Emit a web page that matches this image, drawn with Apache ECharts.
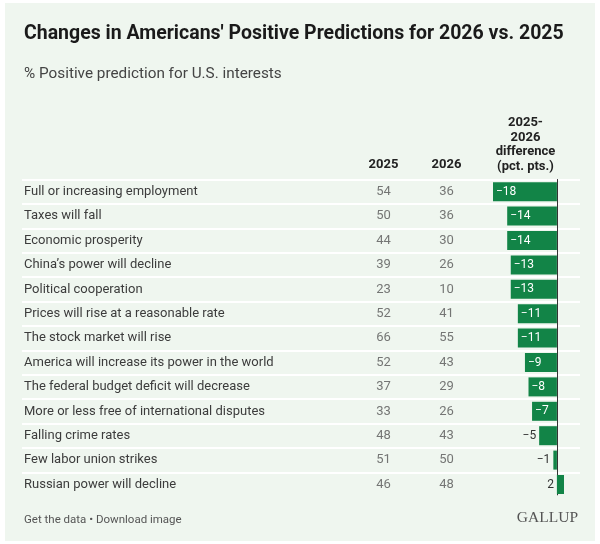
<!DOCTYPE html>
<html>
<head>
<meta charset="utf-8">
<script src="https://cdn.jsdelivr.net/npm/echarts@6/dist/echarts.min.js"></script>
<style>
html,body{margin:0;padding:0;background:#fff;}
#c{width:600px;height:544px;}
</style>
</head>
<body>
<div id="c"></div>
<script>
const categories = [
  'Full or increasing employment',
  'Taxes will fall',
  'Economic prosperity',
  "China\u2019s power will decline",
  'Political cooperation',
  'Prices will rise at a reasonable rate',
  'The stock market will rise',
  'America will increase its power in the world',
  'The federal budget deficit will decrease',
  'More or less free of international disputes',
  'Falling crime rates',
  'Few labor union strikes',
  'Russian power will decline'
];
const values2025 = [54, 50, 44, 39, 23, 52, 66, 52, 37, 33, 48, 51, 46];
const values2026 = [36, 36, 30, 26, 10, 41, 55, 43, 29, 26, 43, 50, 48];
const diff = [-18, -14, -14, -13, -13, -11, -11, -9, -8, -7, -5, -1, 2];
const yearCols = ['2025', '2026'];

const BG = '#eff6ef';
const GREEN = '#128447';
const FONT = 'Roboto, "Liberation Sans", sans-serif';

const gridTop = 179.5, rowH = 24.4, nRows = categories.length;
const gridH = rowH * nRows;

const scatterData = [];
categories.forEach((c, i) => {
  scatterData.push([yearCols[0], c, values2025[i]]);
  scatterData.push([yearCols[1], c, values2026[i]]);
});

const barData = diff.map(v => {
  const small = Math.abs(v) <= 5;
  return {
    value: v,
    label: small
      ? { position: 'left', color: '#333', distance: 3 }
      : { position: 'insideLeft', color: '#fff', distance: 3 }
  };
});

const chart = echarts.init(document.getElementById('c'), null, { renderer: 'canvas' });
chart.setOption({
  backgroundColor: '#fff',
  animation: false,
  textStyle: { fontFamily: FONT },
  graphic: [
    { type: 'rect', z: -10, shape: { x: 5, y: 3, width: 590, height: 538 }, style: { fill: BG } },
    { type: 'rect', z: 100, shape: { x: 18, y: gridTop + gridH - 1.5, width: 566, height: 4 }, style: { fill: BG } },
    { type: 'text', left: 24, top: 24, style: { text: "Changes in Americans' Positive Predictions for 2026 vs. 2025", font: 'bold 19.5px ' + FONT, fill: '#1a1a1a' } },
    { type: 'text', left: 24, top: 67, style: { text: '% Positive prediction for U.S. interests', font: '15.3px ' + FONT, fill: '#444' } },
    { type: 'text', left: 24, top: 514, style: { text: 'Get the data \u2022 Download image', font: '11.5px ' + FONT, fill: '#555' } },
    { type: 'text', right: 22, top: 510, style: { text: 'GALLUP', font: '15.5px "Liberation Serif", "DejaVu Serif", serif', fill: '#555' } }
  ],
  grid: [
    { left: 22, right: 20, top: gridTop, height: gridH },
    { left: 352, width: 126, top: gridTop, height: gridH },
    { left: 493, width: 71, top: gridTop, height: gridH }
  ],
  xAxis: [
    { gridIndex: 0, type: 'value', show: false },
    {
      gridIndex: 1, type: 'category', data: yearCols, position: 'top',
      axisLine: { show: false }, axisTick: { show: false }, splitLine: { show: false },
      axisLabel: { fontWeight: 'bold', fontSize: 13, color: '#222', margin: 8, fontFamily: FONT }
    },
    {
      gridIndex: 2, type: 'value', position: 'top',
      min: v => v.min, max: v => v.max,
      axisLine: { show: false }, axisTick: { show: false }, axisLabel: { show: false }, splitLine: { show: false },
      name: '2025-\n2026\ndifference\n(pct. pts.)', nameLocation: 'middle', nameGap: 6,
      nameTextStyle: { fontWeight: 'bold', fontSize: 13, color: '#222', lineHeight: 14.5, align: 'center', verticalAlign: 'bottom', fontFamily: FONT, padding: [0, 6, 0, 0] }
    }
  ],
  yAxis: [
    {
      gridIndex: 0, type: 'category', data: categories, inverse: true,
      axisLine: { show: false }, axisTick: { show: false },
      splitLine: { show: true, lineStyle: { color: '#ffffff', width: 2 } },
      axisLabel: { align: 'left', margin: -2, fontSize: 13, color: '#3c3c3c', fontFamily: FONT }
    },
    {
      gridIndex: 1, type: 'category', data: categories, inverse: true, show: false
    },
    {
      gridIndex: 2, type: 'category', data: categories, inverse: true,
      axisLine: { show: true, onZero: true, lineStyle: { color: '#333', width: 1 } },
      axisTick: { show: false }, axisLabel: { show: false }, splitLine: { show: false }
    }
  ],
  series: [
    {
      type: 'scatter', xAxisIndex: 1, yAxisIndex: 1, data: scatterData,
      symbolSize: 0, silent: true,
      label: { show: true, position: 'inside', formatter: p => p.value[2], fontSize: 13, color: '#555', fontFamily: FONT }
    },
    {
      type: 'bar', xAxisIndex: 2, yAxisIndex: 2, data: barData,
      barWidth: 19, itemStyle: { color: GREEN },
      label: { show: true, fontSize: 12, fontFamily: FONT, formatter: p => (p.value < 0 ? '\u2212' + Math.abs(p.value) : String(p.value)) }
    }
  ]
});
</script>
</body>
</html>
